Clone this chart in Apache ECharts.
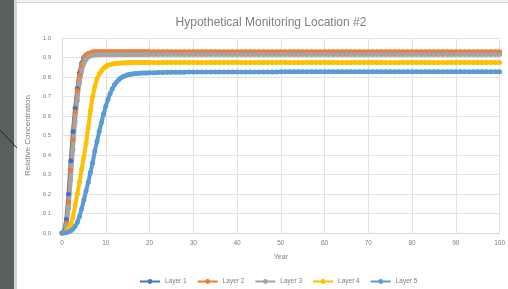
<!DOCTYPE html>
<html>
<head>
<meta charset="utf-8">
<script src="https://cdn.jsdelivr.net/npm/echarts@6/dist/echarts.min.js"></script>
<style>
html, body { margin: 0; padding: 0; background: #f2f2f2; }
#chart { width: 508px; height: 289px; }
</style>
</head>
<body>
<div id="chart"></div>
<script>
// chart data
var titleText = 'Hypothetical Monitoring Location #2';
var seriesNames = ['Layer 1', 'Layer 2', 'Layer 3', 'Layer 4', 'Layer 5'];
var seriesColors = ['#4472C4', '#ED7D31', '#A5A5A5', '#FFC000', '#5B9BD5'];

var years = [0,0.5,1,1.5,2,2.5,3,3.5,4,4.5,5,5.5,6,6.5,7,7.5,8,8.5,9,9.5,
  10,10.5,11,11.5,12,12.5,13,13.5,14,14.5,15,15.5,16,16.5,17,17.5,18,18.5,19,19.5,20,
  21,22,23,24,25,26,27,28,29,30,
  31,32,33,34,35,36,37,38,39,40,
  41,42,43,44,45,46,47,48,49,50,
  51,52,53,54,55,56,57,58,59,60,
  61,62,63,64,65,66,67,68,69,70,
  71,72,73,74,75,76,77,78,79,80,
  81,82,83,84,85,86,87,88,89,90,
  91,92,93,94,95,96,97,98,99,100];

var layer1 = [0,0.01,0.07,0.2,0.37,0.52,0.64,0.74,0.82,0.87,0.9,0.912,0.918,0.921,0.923,0.924,
  0.925,0.925,0.925,0.925,0.925,0.925,0.925,0.925,0.925,0.925,
  0.925,0.925,0.925,0.925,0.925,0.925,0.925,0.925,0.925,0.925,
  0.925,0.925,0.925,0.925,0.925,
  0.925,0.925,0.925,0.925,0.925,0.925,0.925,0.925,0.925,0.925,
  0.925,0.925,0.925,0.925,0.925,0.925,0.925,0.925,0.925,0.925,
  0.925,0.925,0.925,0.925,0.925,0.925,0.925,0.925,0.925,0.925,
  0.925,0.925,0.925,0.925,0.925,0.925,0.925,0.925,0.925,0.925,
  0.925,0.925,0.925,0.925,0.925,0.925,0.925,0.925,0.925,0.925,
  0.925,0.925,0.925,0.925,0.925,0.925,0.925,0.925,0.925,0.925,
  0.925,0.925,0.925,0.925,0.925,0.925,0.925,0.925,0.925,0.925,
  0.925,0.925,0.925,0.925,0.925,0.925,0.925,0.925,0.925,0.925];

var layer2 = [0,0.005,0.05,0.16,0.32,0.48,0.62,0.73,0.81,0.865,0.897,0.913,0.921,0.925,0.928,0.929,
  0.93,0.93,0.93,0.93,0.93,0.93,0.93,0.93,0.93,0.93,
  0.93,0.93,0.93,0.93,0.93,0.93,0.93,0.93,0.93,0.93,
  0.93,0.93,0.93,0.93,0.93,
  0.93,0.93,0.93,0.93,0.93,0.93,0.93,0.93,0.93,0.93,
  0.93,0.93,0.93,0.93,0.93,0.93,0.93,0.93,0.93,0.93,
  0.93,0.93,0.93,0.93,0.93,0.93,0.93,0.93,0.93,0.93,
  0.93,0.93,0.93,0.93,0.93,0.93,0.93,0.93,0.93,0.93,
  0.93,0.93,0.93,0.93,0.93,0.93,0.93,0.93,0.93,0.93,
  0.93,0.93,0.93,0.93,0.93,0.93,0.93,0.93,0.93,0.93,
  0.93,0.93,0.93,0.93,0.93,0.93,0.93,0.93,0.93,0.93,
  0.93,0.93,0.93,0.93,0.93,0.93,0.93,0.93,0.93,0.93];

var layer3 = [0,0.004,0.04,0.13,0.27,0.43,0.57,0.68,0.77,0.83,0.87,0.89,0.902,0.908,0.911,0.913,
  0.914,0.914,0.915,0.915,0.915,0.915,0.915,0.915,0.915,0.915,
  0.915,0.915,0.915,0.915,0.915,0.915,0.915,0.915,0.915,0.915,
  0.915,0.915,0.915,0.915,0.915,
  0.915,0.915,0.915,0.915,0.915,0.915,0.915,0.915,0.915,0.915,
  0.915,0.915,0.915,0.915,0.915,0.915,0.915,0.915,0.915,0.915,
  0.915,0.915,0.915,0.915,0.915,0.915,0.915,0.915,0.915,0.915,
  0.915,0.915,0.915,0.915,0.915,0.915,0.915,0.915,0.915,0.915,
  0.915,0.915,0.915,0.915,0.915,0.915,0.915,0.915,0.915,0.915,
  0.915,0.915,0.915,0.915,0.915,0.915,0.915,0.915,0.915,0.915,
  0.915,0.915,0.915,0.915,0.915,0.915,0.915,0.915,0.915,0.915,
  0.915,0.915,0.915,0.915,0.915,0.915,0.915,0.915,0.915,0.915];

var layer4 = [0,0.002,0.01,0.025,0.045,0.08,0.14,0.2,0.26,0.33,
  0.39,0.46,0.54,0.63,0.7,0.75,0.79,0.815,0.832,0.845,
  0.854,0.86,0.864,0.867,0.869,0.87,0.871,0.872,0.872,0.873,
  0.873,0.874,0.874,0.874,0.875,0.875,0.875,0.875,0.875,0.875,0.875,
  0.875,0.875,0.875,0.875,0.875,0.875,0.875,0.875,0.875,0.875,
  0.875,0.875,0.875,0.875,0.875,0.875,0.875,0.875,0.875,0.875,
  0.875,0.875,0.875,0.875,0.875,0.875,0.875,0.875,0.875,0.875,
  0.875,0.875,0.875,0.875,0.875,0.875,0.875,0.875,0.875,0.875,
  0.875,0.875,0.875,0.875,0.875,0.875,0.875,0.875,0.875,0.875,
  0.875,0.875,0.875,0.875,0.875,0.875,0.875,0.875,0.875,0.875,
  0.875,0.875,0.875,0.875,0.875,0.875,0.875,0.875,0.875,0.875,
  0.875,0.875,0.875,0.875,0.875,0.875,0.875,0.875,0.875,0.875];

var layer5 = [0,0,0.002,0.006,0.012,0.02,0.035,0.055,0.085,0.125,
  0.17,0.215,0.26,0.31,0.36,0.42,0.47,0.52,0.565,0.61,
  0.65,0.685,0.715,0.74,0.76,0.775,0.787,0.796,0.802,0.807,
  0.811,0.813,0.815,0.817,0.818,0.819,0.82,0.82,0.821,0.821,0.822,
  0.822,0.823,0.823,0.824,0.824,0.825,0.825,0.825,0.826,0.826,
  0.826,0.826,0.826,0.826,0.826,0.826,0.826,0.826,0.826,0.826,
  0.826,0.826,0.826,0.826,0.826,0.826,0.826,0.826,0.826,0.827,
  0.827,0.827,0.827,0.827,0.827,0.827,0.827,0.827,0.827,0.827,
  0.827,0.827,0.827,0.827,0.827,0.827,0.827,0.827,0.827,0.827,
  0.827,0.827,0.827,0.827,0.827,0.827,0.827,0.827,0.827,0.827,
  0.827,0.827,0.827,0.827,0.827,0.827,0.827,0.827,0.827,0.827,
  0.827,0.827,0.827,0.827,0.827,0.827,0.827,0.827,0.827,0.827];

var layers = [layer1, layer2, layer3, layer4, layer5];

var myChart = echarts.init(document.getElementById('chart'));
var textGrey = '#808080';
var font = 'Liberation Sans';

var series = layers.map(function (vals, i) {
    return {
        name: seriesNames[i],
        type: 'line',
        data: years.map(function (t, k) { return [t, vals[k]]; }),
        symbol: 'circle',
        symbolSize: 5,
        color: seriesColors[i],
        lineStyle: { width: 4 }
    };
});

var option = {
    animation: false,
    textStyle: { fontFamily: font },
    graphic: [
        { type: 'rect', z: -10, shape: { x: 0, y: 0, width: 14, height: 289 }, style: { fill: '#56615b' } },
        { type: 'rect', z: -10, shape: { x: 14, y: 0, width: 3, height: 289 }, style: { fill: '#d6d6d6' } },
        { type: 'rect', z: -10, shape: { x: 16.5, y: 2.5, width: 495, height: 290 }, style: { fill: '#ffffff', stroke: '#d4d4d4', lineWidth: 1 } },
        { type: 'line', z: -5, shape: { x1: 0, y1: 130, x2: 17, y2: 148 }, style: { stroke: '#222', lineWidth: 1 } }
    ],
    title: {
        text: titleText,
        left: 266,
        textAlign: 'center',
        top: 12,
        textStyle: { fontSize: 12, fontWeight: 'normal', color: textGrey, fontFamily: font }
    },
    legend: {
        data: seriesNames,
        left: 134,
        top: 273,
        itemWidth: 20,
        itemHeight: 6,
        itemGap: 10,
        textStyle: { fontSize: 6.5, color: textGrey, fontFamily: font }
    },
    grid: { left: 62, right: 5, top: 38, bottom: 56, containLabel: false },
    xAxis: {
        type: 'value',
        min: 0,
        max: 100,
        interval: 10,
        name: 'Year',
        nameLocation: 'middle',
        nameGap: 21,
        nameTextStyle: { fontSize: 7, color: textGrey },
        axisLine: { show: true, lineStyle: { color: '#d9d9d9' } },
        axisTick: { show: false },
        axisLabel: { fontSize: 6.5, color: textGrey, margin: 7 },
        splitLine: { show: true, lineStyle: { color: '#e3e3e3' } }
    },
    yAxis: {
        type: 'value',
        min: 0,
        max: 1,
        interval: 0.1,
        name: 'Relative Concentration',
        nameLocation: 'middle',
        nameGap: 25,
        nameTextStyle: { fontSize: 8, color: textGrey },
        axisLine: { show: true, lineStyle: { color: '#d9d9d9' } },
        axisTick: { show: false },
        axisLabel: {
            fontSize: 6,
            color: textGrey,
            margin: 11,
            formatter: function (v) { return v.toFixed(1); }
        },
        splitLine: { show: true, lineStyle: { color: '#e3e3e3' } }
    },
    series: series
};

myChart.setOption(option);
</script>
</body>
</html>
